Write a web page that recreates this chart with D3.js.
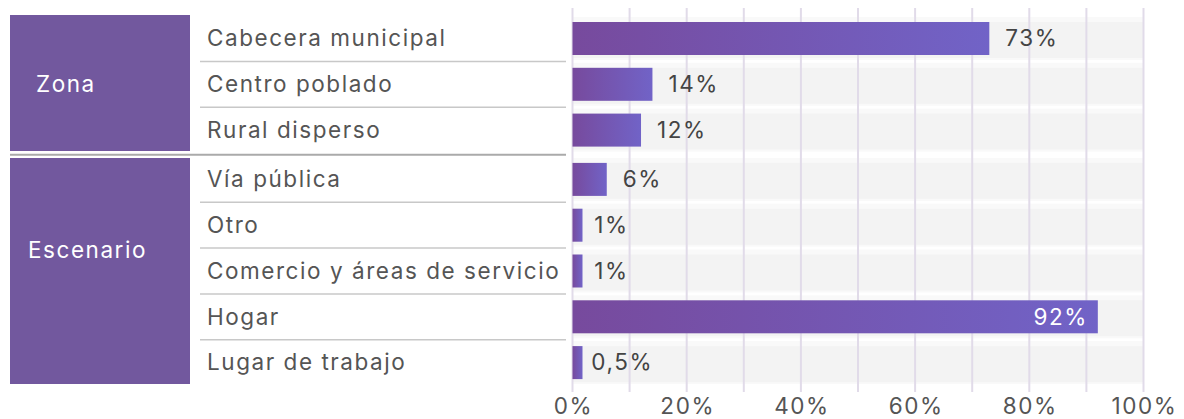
<!DOCTYPE html>
<html>
<head>
<meta charset="utf-8">
<script src="https://cdn.jsdelivr.net/npm/d3@7"></script>
<style>
  html, body { margin: 0; padding: 0; background: #ffffff; }
  svg { display: block; }
  text { font-family: "Inter", "Noto Sans", sans-serif; font-size: 22.5px; letter-spacing: 1.55px; }
</style>
</head>
<body>
<svg id="chart" width="1184" height="419"></svg>
<script>
// Groups and their categories
const groups = ["Zona", "Escenario"];
const categories = [
  "Cabecera municipal", "Centro poblado", "Rural disperso",
  "Vía pública", "Otro", "Comercio y áreas de servicio", "Hogar", "Lugar de trabajo"
];
const categoryGroup = ["Zona", "Zona", "Zona",
  "Escenario", "Escenario", "Escenario", "Escenario", "Escenario"];
// Share of cases (%)
const values = [73, 14, 12, 6, 1, 1, 92, 0.5];
const valueLabels = ["73%", "14%", "12%", "6%", "1%", "1%", "92%", "0,5%"];
const tickValues = [0, 20, 40, 60, 80, 100];
const tickLabels = ["0%", "20%", "40%", "60%", "80%", "100%"];
const gridValues = [0, 10, 20, 30, 40, 50, 60, 70, 80, 90, 100];

const svg = d3.select("#chart");

const rowPitch = 45.8;
const groupGap = 3.5;
const topY = 15.6;

// Row bands, with an extra gap before each new group
const yBand = d3.scaleBand().domain(categories)
  .range([topY, topY + categories.length * rowPitch]).paddingInner(0).paddingOuter(0);
const groupIndex = c => groups.indexOf(categoryGroup[categories.indexOf(c)]);
const rowTop = c => yBand(c) + groupIndex(c) * groupGap;
const rowMid = c => rowTop(c) + rowPitch / 2;

const x = d3.scaleLinear().domain([0, 100]).range([572.5, 1143.5]);

const defs = svg.append("defs");
const grad = defs.append("linearGradient").attr("id", "barGrad")
  .attr("x1", "0%").attr("x2", "100%").attr("y1", "0%").attr("y2", "0%");
grad.append("stop").attr("offset", "0%").attr("stop-color", "#774a9d");
grad.append("stop").attr("offset", "100%").attr("stop-color", "#7163c7");

// Row background bands
const bands = svg.append("g");
categories.forEach(c => {
  bands.append("rect")
    .attr("x", x(0)).attr("width", x(100) - x(0))
    .attr("y", rowMid(c) - 21.5).attr("height", 43)
    .attr("fill", "#f9f9f9");
  bands.append("rect")
    .attr("x", x(0)).attr("width", x(100) - x(0))
    .attr("y", rowMid(c) - 16.5).attr("height", 36)
    .attr("fill", "#f3f3f3");
});

// Vertical grid lines every 10%
svg.append("g").selectAll("line").data(gridValues).join("line")
  .attr("x1", d => x(d)).attr("x2", d => x(d))
  .attr("y1", 8).attr("y2", 392)
  .attr("stroke", "#e1dbe9").attr("stroke-width", 2);

// Group panels on the left
groups.forEach(g => {
  const rows = categories.filter((c, i) => categoryGroup[i] === g);
  const y0 = rowTop(rows[0]);
  const y1 = rowTop(rows[rows.length - 1]) + rowPitch;
  svg.append("rect")
    .attr("x", 10).attr("width", 180)
    .attr("y", g === groups[0] ? y0 - 0.6 : y0 + 1.5)
    .attr("height", (y1 - y0) - (g === groups[0] ? 1.4 : 3))
    .attr("fill", "#72589e");
  const mid = (y0 + y1) / 2;
  svg.append("text")
    .attr("x", g === groups[0] ? 36 : 28)
    .attr("y", g === groups[0] ? mid : mid - 21)
    .attr("dy", "0.35em")
    .attr("fill", "#ffffff")
    .text(g);
});

// Separator lines between rows and between groups
categories.forEach((c, i) => {
  if (i === categories.length - 1) return;
  const next = categories[i + 1];
  const sameGroup = categoryGroup[i] === categoryGroup[i + 1];
  const yLine = sameGroup ? rowTop(next) : (rowTop(c) + rowPitch + rowTop(next)) / 2;
  svg.append("line")
    .attr("x1", sameGroup ? 200 : 10).attr("x2", 566)
    .attr("y1", yLine).attr("y2", yLine)
    .attr("stroke", sameGroup ? "#c8c8c8" : "#aaaaaa")
    .attr("stroke-width", sameGroup ? 1.5 : 2.2);
});

// Category labels
svg.append("g").selectAll("text").data(categories).join("text")
  .attr("x", 207).attr("y", d => rowMid(d)).attr("dy", "0.35em")
  .attr("fill", "#555555")
  .text(d => d);

// Bars
const minBar = 10;
const barH = 33;
const data = categories.map((c, i) => ({ c, v: values[i], label: valueLabels[i] }));
const barEnd = d => x(0) + Math.max(minBar, x(d.v) - x(0));

svg.append("g").selectAll("rect").data(data).join("rect")
  .attr("x", x(0)).attr("y", d => rowMid(d.c) - barH / 2)
  .attr("width", d => barEnd(d) - x(0)).attr("height", barH)
  .attr("fill", "url(#barGrad)");

// Value labels: inside the bar when it nearly fills the axis
svg.append("g").selectAll("text").data(data).join("text")
  .attr("x", d => d.v > 85 ? barEnd(d) - 10 : x(d.v) + 16)
  .attr("y", d => rowMid(d.c)).attr("dy", "0.35em")
  .attr("text-anchor", d => d.v > 85 ? "end" : "start")
  .attr("fill", d => d.v > 85 ? "#ffffff" : "#444444")
  .text(d => d.label);

// Bottom axis labels
svg.append("g").selectAll("text").data(tickValues).join("text")
  .attr("x", d => x(d) + 1).attr("y", 414)
  .attr("text-anchor", "middle")
  .attr("fill", "#555555")
  .text((d, i) => tickLabels[i]);
</script>
</body>
</html>
